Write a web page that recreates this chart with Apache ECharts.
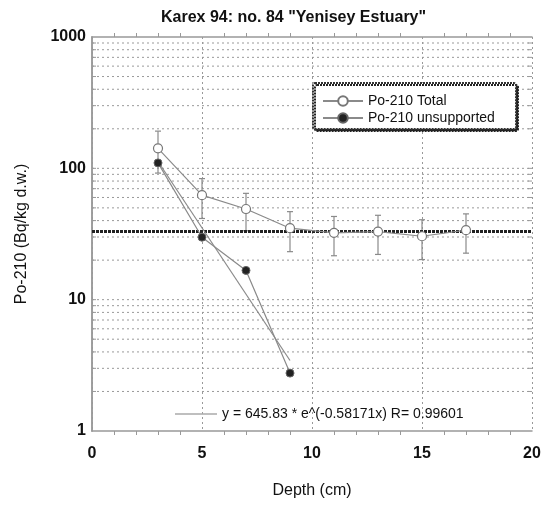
<!DOCTYPE html>
<html><head><meta charset="utf-8">
<script src="https://cdn.jsdelivr.net/npm/echarts@6/dist/echarts.min.js"></script>
<style>html,body{margin:0;padding:0;background:#fff}#c{width:546px;height:508px}</style>
</head><body><div id="c"></div>
<script>
// ---- data ----
const depth = [3, 5, 7, 9, 11, 13, 15, 17];
const totalPo = [142, 62.5, 49, 35, 32.3, 33, 30.4, 33.8];
const totalErr = [50, 21, 15.5, 11.8, 10.7, 10.9, 10.2, 11.2];
const unsupDepth = [3, 5, 7, 9];
const unsupPo = [110, 29.9, 16.7, 2.76];
const fitDepth = [3, 9];
const fitPo = [112.7, 3.44];
const supportedLevel = 33;
const fitLabel = 'y = 645.83 * e^(-0.58171x) R= 0.99601';
const xTicks = [0, 5, 10, 15, 20];
const yTicks = [1, 10, 100, 1000];

// ---- build ----
const yGrid = [];
for (let d = 1; d < 1000; d *= 10) for (let m = 1; m <= 9; m++) { const v = m * d; if (v > 1 && v < 1000) yGrid.push(v); }

const grey = '#8a8a8a';
const chart = echarts.init(document.getElementById('c'));
chart.setOption({
  animation: false,
  backgroundColor: '#fff',
  textStyle: { fontFamily: 'Liberation Sans, Arial, sans-serif', color: '#111' },
  title: { text: 'Karex 94: no. 84 "Yenisey Estuary"', left: 156, top: 5,
    textStyle: { fontSize: 16, fontWeight: 'bold', color: '#111' } },
  grid: { left: 92, right: 14, top: 37, bottom: 77 },
  xAxis: [{
    type: 'value', min: 0, max: 20, interval: 5,
    name: 'Depth (cm)', nameLocation: 'middle', nameGap: 52,
    nameTextStyle: { fontSize: 16, color: '#111' },
    axisLine: { show: true, onZero: false, lineStyle: { color: '#999', width: 1.5 } },
    axisTick: { show: false },
    minorTick: { show: true, splitNumber: 5, length: 4, lineStyle: { color: '#999' } },
    axisLabel: { fontSize: 16, fontWeight: 'bold', color: '#111', margin: 15,
      formatter: v => xTicks.includes(v) ? String(v) : '' },
    splitLine: { show: true, lineStyle: { color: '#999', type: [2, 3], width: 1 } }
  }, {
    type: 'value', min: 0, max: 20, interval: 5, position: 'top',
    axisLine: { show: true, lineStyle: { color: '#999', width: 1.5 } },
    axisTick: { show: false },
    minorTick: { show: true, splitNumber: 5, length: 4, lineStyle: { color: '#999' } },
    axisLabel: { show: false }, splitLine: { show: false }
  }],
  yAxis: [{
    type: 'log', logBase: 10, min: 1, max: 1000,
    name: 'Po-210 (Bq/kg d.w.)', nameLocation: 'middle', nameGap: 62,
    nameTextStyle: { fontSize: 16, color: '#111' },
    axisLine: { show: true, lineStyle: { color: '#999', width: 1.5 } },
    axisTick: { show: false },
    axisLabel: { fontSize: 16, fontWeight: 'bold', color: '#111', margin: 6,
      formatter: v => yTicks.includes(Math.round(v)) ? String(Math.round(v)) : '' },
    splitLine: { show: false }
  }, {
    type: 'log', logBase: 10, min: 1, max: 1000, position: 'right',
    axisLine: { show: true, lineStyle: { color: '#999', width: 1.5 } },
    axisTick: { show: false }, axisLabel: { show: false }, splitLine: { show: false }
  }],
  legend: [{
    data: ['Po-210 Total', 'Po-210 unsupported'],
    orient: 'vertical', left: 317, top: 89, itemGap: 3, itemWidth: 40, itemHeight: 12,
    textStyle: { fontSize: 14, color: '#111' }, z: 10
  }, {
    data: [{ name: fitLabel, icon: 'rect' }], left: 170, top: 402, itemWidth: 42, itemHeight: 1.5,
    textStyle: { fontSize: 14, color: '#111' }, z: 10
  }],
  graphic: [{
    type: 'rect', z: 5, shape: { x: 313, y: 83, width: 203, height: 46, r: 2 },
    style: { fill: '#fff', stroke: '#333', lineWidth: 2, lineDash: [2, 1],
      shadowColor: '#222', shadowOffsetX: 2, shadowOffsetY: 2, shadowBlur: 0 }
  }],
  series: [
    { type: 'custom', silent: true, z: 1, xAxisIndex: 0, yAxisIndex: 0,
      data: yGrid,
      renderItem: function (params, api) {
        const v = api.value(0);
        const a = api.coord([0, v]), b = api.coord([20, v]);
        return { type: 'group', children: [
          { type: 'line', shape: { x1: a[0], y1: a[1], x2: b[0], y2: b[1] },
            style: { stroke: '#999', lineWidth: 1, lineDash: [2, 3] } },
          { type: 'line', shape: { x1: a[0], y1: a[1], x2: a[0] + 4, y2: a[1] }, style: { stroke: '#999', lineWidth: 1 } },
          { type: 'line', shape: { x1: b[0], y1: b[1], x2: b[0] - 4, y2: b[1] }, style: { stroke: '#999', lineWidth: 1 } }
        ] };
      },
      encode: { x: -1, y: 0 }
    },
    { type: 'line', name: 'supported', silent: true, z: 3, symbol: 'none',
      data: [[0, supportedLevel], [20, supportedLevel]],
      lineStyle: { color: '#222', width: 3, type: [3, 1] } },
    { type: 'custom', name: 'err', silent: true, z: 3,
      data: depth.map((d, i) => [d, totalPo[i] - totalErr[i], totalPo[i] + totalErr[i]]),
      renderItem: function (params, api) {
        const lo = api.coord([api.value(0), api.value(1)]);
        const hi = api.coord([api.value(0), api.value(2)]);
        const st = { stroke: grey, lineWidth: 1.2 };
        return { type: 'group', children: [
          { type: 'line', shape: { x1: lo[0], y1: lo[1], x2: hi[0], y2: hi[1] }, style: st },
          { type: 'line', shape: { x1: lo[0] - 3, y1: lo[1], x2: lo[0] + 3, y2: lo[1] }, style: st },
          { type: 'line', shape: { x1: hi[0] - 3, y1: hi[1], x2: hi[0] + 3, y2: hi[1] }, style: st }
        ] };
      },
      encode: { x: 0, y: [1, 2] }
    },
    { type: 'line', name: fitLabel, symbol: 'none', z: 4,
      data: fitDepth.map((d, i) => [d, fitPo[i]]),
      lineStyle: { color: grey, width: 1.2 }, itemStyle: { color: '#aaa' } },
    { type: 'line', name: 'Po-210 Total', z: 5,
      data: depth.map((d, i) => [d, totalPo[i]]),
      symbol: 'circle', symbolSize: 9,
      lineStyle: { color: grey, width: 1.2 },
      itemStyle: { color: '#fff', borderColor: '#777', borderWidth: 1.2 } },
    { type: 'line', name: 'Po-210 unsupported', z: 6,
      data: unsupDepth.map((d, i) => [d, unsupPo[i]]),
      symbol: 'circle', symbolSize: 8,
      lineStyle: { color: grey, width: 1.2 },
      itemStyle: { color: '#222', borderColor: '#666', borderWidth: 1 } }
  ]
});
</script>
</body></html>
